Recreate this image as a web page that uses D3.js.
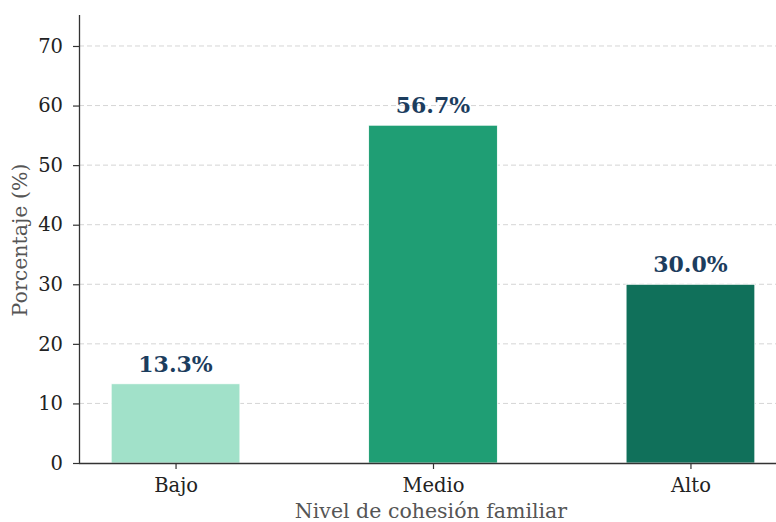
<!DOCTYPE html>
<html>
<head>
<meta charset="utf-8">
<script src="https://cdn.jsdelivr.net/npm/d3@7"></script>
<style>
  body { margin: 0; background: #fff; }
  text { font-family: "DejaVu Serif", serif; }
</style>
</head>
<body>
<div id="chart"></div>
<script>
// data
var categories = ["Bajo", "Medio", "Alto"];
var values = [13.3, 56.7, 30.0];
var colors = ["#a1e1c9", "#1f9e74", "#10705a"];
var yTicks = [0, 10, 20, 30, 40, 50, 60, 70];

var width = 776, height = 522;
// plot area (right edge runs past the picture, as in the source)
var plotLeft = 79, plotTop = 15, plotBottom = 463, plotRight = 787;

var svg = d3.select("#chart").append("svg")
    .attr("width", width)
    .attr("height", height);

var x = d3.scaleLinear().domain([-0.375, 2.375]).range([plotLeft, plotRight]);
var y = d3.scaleLinear().domain([0, 75.2]).range([plotBottom, plotTop]);
var barW = x(0.5) - x(0);

// grid
svg.append("g").selectAll("line")
    .data(yTicks.filter(function(d){ return d > 0; }))
    .enter().append("line")
    .attr("x1", plotLeft).attr("x2", plotRight)
    .attr("y1", function(d){ return y(d); })
    .attr("y2", function(d){ return y(d); })
    .attr("stroke", "#d5d5d5")
    .attr("stroke-width", 1)
    .attr("stroke-dasharray", "5,3");

// bars
svg.append("g").selectAll("rect")
    .data(values)
    .enter().append("rect")
    .attr("x", function(d, i){ return x(i) - barW / 2; })
    .attr("y", function(d){ return y(d); })
    .attr("width", barW)
    .attr("height", function(d){ return plotBottom - y(d); })
    .attr("fill", function(d, i){ return colors[i]; })
    .attr("stroke", "#ffffff")
    .attr("stroke-width", 0.8);

// value labels
svg.append("g").selectAll("text")
    .data(values)
    .enter().append("text")
    .attr("x", function(d, i){ return x(i); })
    .attr("y", function(d){ return y(d) - 12; })
    .attr("text-anchor", "middle")
    .attr("font-size", 22)
    .attr("font-weight", "bold")
    .attr("fill", "#1c3d5e")
    .text(function(d){ return d.toFixed(1) + "%"; });

// axes
var yAxis = svg.append("g")
    .attr("transform", "translate(" + plotLeft + ",0)")
    .call(d3.axisLeft(y).tickValues(yTicks).tickSize(6).tickPadding(10));
var xAxis = svg.append("g")
    .attr("transform", "translate(0," + plotBottom + ")")
    .call(d3.axisBottom(x).tickValues([0, 1, 2])
        .tickFormat(function(d){ return categories[d]; })
        .tickSize(6).tickPadding(9.5));

[yAxis, xAxis].forEach(function(a){
    a.select(".domain").attr("stroke", "#333").attr("stroke-width", 1.3);
    a.selectAll(".tick line").attr("stroke", "#333").attr("stroke-width", 1.2);
    a.selectAll(".tick text")
        .attr("font-family", "DejaVu Serif, serif")
        .attr("font-size", 19.5)
        .attr("fill", "#222");
});
yAxis.select(".domain").attr("d", "M0.5," + plotTop + "V" + plotBottom);
xAxis.select(".domain").attr("d", "M" + plotLeft + ",0.5H" + plotRight);

// axis titles
svg.append("text")
    .attr("x", 431)
    .attr("y", 518)
    .attr("text-anchor", "middle")
    .attr("font-size", 20.5)
    .attr("fill", "#555")
    .text("Nivel de cohesión familiar");

svg.append("text")
    .attr("transform", "translate(27,240) rotate(-90)")
    .attr("text-anchor", "middle")
    .attr("font-size", 20.5)
    .attr("fill", "#555")
    .text("Porcentaje (%)");
</script>
</body>
</html>
